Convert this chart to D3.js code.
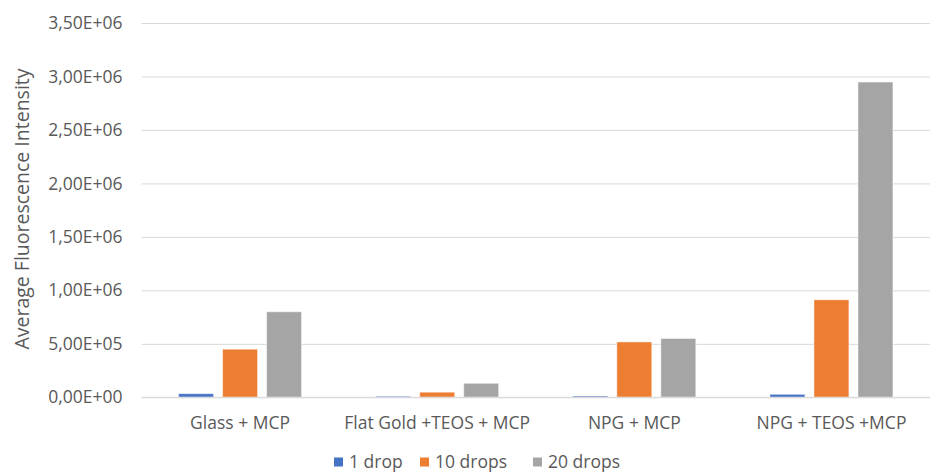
<!DOCTYPE html>
<html>
<head>
<meta charset="utf-8">
<script src="https://cdn.jsdelivr.net/npm/d3@7"></script>
<style>
  html, body { margin: 0; padding: 0; background: #fff; }
  svg text { font-family: "Open Sans", sans-serif; fill: #595959; }
</style>
</head>
<body>
<svg id="chart" width="932" height="474"></svg>
<script>
// Sample groups along the x axis
const categories = ["Glass + MCP", "Flat Gold +TEOS + MCP", "NPG + MCP", "NPG + TEOS +MCP"];
// Series (number of drops) and their values per sample
const seriesNames = ["1 drop", "10 drops", "20 drops"];
const oneDrop    = [34000, 10000, 12000, 28000];
const tenDrops   = [450000, 48000, 518000, 912000];
const twentyDrops = [800000, 131000, 550000, 2948000];
const yTicks = [0, 500000, 1000000, 1500000, 2000000, 2500000, 3000000, 3500000];
const colors = ["#4472C4", "#ED7D31", "#A5A5A5"];

const seriesValues = [oneDrop, tenDrops, twentyDrops];

const svg = d3.select("#chart");
const margin = { left: 141.5, right: 930, top: 23, bottom: 397.3 };
const labelSize = "17.5px";

const y = d3.scaleLinear().domain([0, 3500000]).range([margin.bottom, margin.top]);
const x0 = d3.scaleBand().domain(categories).range([margin.left, margin.right])
  .paddingInner(0.376).paddingOuter(0.188);
const x1 = d3.scaleBand().domain(seriesNames).range([0, x0.bandwidth()])
  .paddingInner(0.205).paddingOuter(0);

// Scientific format with comma decimal separator: 3,50E+06
function sci(v) {
  if (v === 0) return "0,00E+00";
  const e = Math.floor(Math.log10(Math.abs(v)));
  const m = v / Math.pow(10, e);
  const es = (e < 0 ? "-" : "+") + String(Math.abs(e)).padStart(2, "0");
  return m.toFixed(2).replace(".", ",") + "E" + es;
}

// Gridlines and tick labels
const yAxis = d3.axisLeft(y).tickValues(yTicks).tickFormat(sci)
  .tickSize(-(margin.right - margin.left)).tickPadding(19);
const gy = svg.append("g").attr("transform", `translate(${margin.left},0)`).call(yAxis);
gy.select(".domain").remove();
gy.selectAll(".tick line").attr("stroke", "#D9D9D9").attr("stroke-width", 1);
gy.selectAll(".tick text").style("font-size", labelSize).style("font-family", "'Open Sans', sans-serif").attr("fill", "#595959");

// Bars
const groups = svg.append("g").selectAll("g")
  .data(categories)
  .join("g")
  .attr("transform", d => `translate(${x0(d)},0)`);

groups.selectAll("rect")
  .data((d, i) => seriesNames.map((s, j) => ({ s, j, v: seriesValues[j][i] })))
  .join("rect")
  .attr("x", d => x1(d.s))
  .attr("width", x1.bandwidth())
  .attr("y", d => y(d.v))
  .attr("height", d => y(0) - y(d.v))
  .attr("fill", d => colors[d.j])
  .attr("stroke", "#fff")
  .attr("stroke-opacity", 0.5)
  .attr("stroke-width", 1);

// Baseline axis
svg.append("line")
  .attr("x1", margin.left).attr("x2", margin.right)
  .attr("y1", y(0)).attr("y2", y(0))
  .attr("stroke", "#D9D9D9").attr("stroke-width", 1);

// Category labels
const xAxis = d3.axisBottom(x0).tickSize(0).tickPadding(19);
const gx = svg.append("g").attr("transform", `translate(0,${y(0)})`).call(xAxis);
gx.select(".domain").remove();
gx.selectAll(".tick text").style("font-size", labelSize).style("font-family", "'Open Sans', sans-serif").attr("fill", "#595959");

// Y axis title
svg.append("text")
  .attr("transform", `translate(22,209) rotate(-90)`)
  .attr("text-anchor", "middle")
  .attr("dy", "0.35em")
  .style("font-size", "19.5px")
  .text("Average Fluorescence Intensity");

// Legend
const legendX = [334, 420, 533];
const legend = svg.append("g").selectAll("g")
  .data(seriesNames)
  .join("g")
  .attr("transform", (d, i) => `translate(${legendX[i]},462)`);
legend.append("rect")
  .attr("x", 0).attr("y", -4.5).attr("width", 9).attr("height", 9)
  .attr("fill", (d, i) => colors[i]);
legend.append("text")
  .attr("x", 15).attr("y", 0).attr("dy", "0.35em")
  .style("font-size", labelSize)
  .text(d => d);
</script>
</body>
</html>
